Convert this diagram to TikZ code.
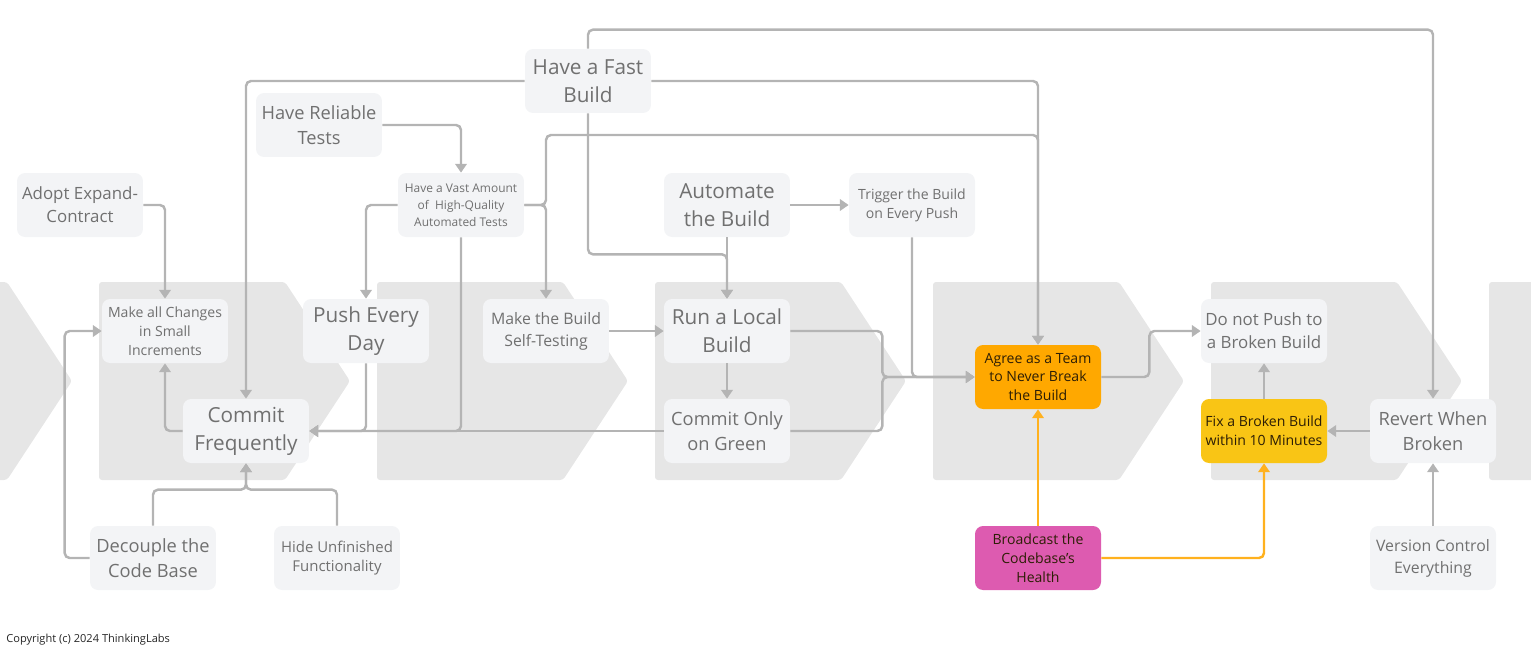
\documentclass[tikz,border=0pt]{standalone}
\usepackage{fontspec}
\setmainfont{Open Sans}
\usepackage{xcolor}
\usepackage{tikz}
\usetikzlibrary{shapes.geometric, arrows.meta, positioning}
\definecolor{chevgray}{RGB}{230,230,230}
\definecolor{boxgray}{RGB}{243,244,246}
\definecolor{textgray}{RGB}{112,112,112}
\definecolor{linegray}{RGB}{180,180,180}
\definecolor{teamorange}{RGB}{255,168,0}
\definecolor{fixyellow}{RGB}{249,197,21}
\definecolor{healthpink}{RGB}{221,91,176}
\definecolor{warnline}{RGB}{255,177,30}
\definecolor{darktext}{RGB}{45,30,5}

\tikzset{
  box/.style={fill=boxgray, text=textgray, rounded corners=0.16cm, minimum width=2.52cm, minimum height=1.28cm, inner sep=1pt, align=center},
  hot/.style={box, text=darktext},
  flow/.style={draw=linegray, line width=1.4pt, rounded corners=0.1cm, -{Triangle[length=5pt,width=6.5pt]}},
  warn/.style={flow, draw=warnline},
  fbig/.style={font=\fontsize{11.8}{16}\selectfont},
  fmid/.style={font=\fontsize{10.4}{14.2}\selectfont},
  fsub/.style={font=\fontsize{9.6}{13}\selectfont},
  fsmall/.style={font=\fontsize{9}{12.5}\selectfont},
  fhide/.style={font=\fontsize{8.5}{11.3}\selectfont},
  ftiny/.style={font=\fontsize{8}{10.8}\selectfont},
  fmini/.style={font=\fontsize{6.8}{9.6}\selectfont}
}

\begin{document}
\begin{tikzpicture}[x=0.02cm, y=-0.02cm]
\useasboundingbox (0,0) rectangle (1531,653);

% stage chevrons
\foreach \x in {-179,99,377,655,933,1211,1489}
  \fill[chevgray, rounded corners=0.06cm] (\x,282) -- (\x+186,282) -- (\x+251,381) -- (\x+186,480) -- (\x,480) -- cycle;

% practices
\node[box, fsub] (adopt) at (80,205) {Adopt Expand-\\Contract};
\node[box, fmid] (reliable) at (319,125) {Have Reliable\\Tests};
\node[box, fbig] (fastbuild) at (588,81) {Have a Fast\\Build};
\node[box, fmini] (vast) at (461,205) {Have a Vast Amount\\of~~High-Quality\\Automated Tests};
\node[box, fbig] (automate) at (727,205) {Automate\\the Build};
\node[box, ftiny] (trigger) at (912,205) {Trigger the Build\\on Every Push};
\node[box, ftiny] (small) at (165,331) {Make all Changes\\in Small\\Increments};
\node[box, fbig] (push) at (366,331) {Push Every\\Day};
\node[box, fsmall] (selftest) at (546,331) {Make the Build\\Self-Testing};
\node[box, fbig] (runlocal) at (727,331) {Run a Local\\Build};
\node[box, fbig] (commitfreq) at (246,431) {Commit\\Frequently};
\node[box, fmid] (green) at (727,431) {Commit Only\\on Green};
\node[hot, fill=teamorange, ftiny] (agree) at (1038,377) {Agree as a Team\\to Never Break\\the Build};
\node[box, fsub] (nopush) at (1264,331) {Do not Push to\\a Broken Build};
\node[hot, fill=fixyellow, ftiny] (fix) at (1264,431) {Fix a Broken Build\\within 10 Minutes};
\node[box, fmid] (revert) at (1433,431) {Revert When\\Broken};
\node[box, fmid] (decouple) at (153,558) {Decouple the\\Code Base};
\node[box, fhide] (hide) at (337,558) {Hide Unfinished\\Functionality};
\node[hot, fill=healthpink, ftiny] (health) at (1038,558) {Broadcast the\\Codebase's\\Health};
\node[box, fsmall] (version) at (1433,558) {Version Control\\Everything};
\node[anchor=base west, inner sep=0pt, text=black!85, font=\fontsize{6.3}{7}\selectfont] (copy) at (6,642) {Copyright (c) 2024 ThinkingLabs};

% top links
\draw[flow] (adopt.east) -| (small.north);
\draw[flow] (reliable.east) -| (vast.north);
\draw[flow] (vast.west) -| (push.north);
\draw[flow] (vast.east) -| (selftest.north);
\draw[flow] (vast.east) -| (selftest.north |- 0,135) -| (agree.north);
\draw[flow] (fastbuild.west) -| (commitfreq.north);
\draw[flow] (fastbuild.east) -| (agree.north);
\draw[flow] (fastbuild.north) -- ++(0,-19) -| (revert.north);
\draw[flow] (fastbuild.south) -- ++(0,141) -| (runlocal.north);
\draw[flow] (automate.south) -- (runlocal.north);
\draw[flow] (automate.east) -- (trigger.west);
\draw[flow] (trigger.south) |- (agree.west);

% middle links
\draw[flow] (selftest.east) -- (runlocal.west);
\draw[flow] (runlocal.south) -- (green.north);
\draw[flow] (runlocal.east) -- ++(92,0) |- (agree.west);
\draw[flow] (green.east) -- ++(92,0) |- (agree.west);
\draw[flow] (green.west) -- (commitfreq.east);
\draw[flow] (push.south) |- (commitfreq.east);
\draw[flow] (vast.south) |- (commitfreq.east);
\draw[flow] (commitfreq.west) -| (small.south);
\draw[flow] (agree.east) -- ++(48,0) |- (nopush.west);
\draw[flow] (fix.north) -- (nopush.south);
\draw[flow] (revert.west) -- (fix.east);

% bottom links
\draw[flow] (decouple.west) -- ++(-25,0) |- (small.west);
\draw[flow] (decouple.north) -- ++(0,-36) -| (commitfreq.south);
\draw[flow] (hide.north) -- ++(0,-36) -| (commitfreq.south);
\draw[flow] (version.north) -- (revert.south);
\draw[warn] (health.north) -- (agree.south);
\draw[warn] (health.east) -| (fix.south);
\end{tikzpicture}
\end{document}
